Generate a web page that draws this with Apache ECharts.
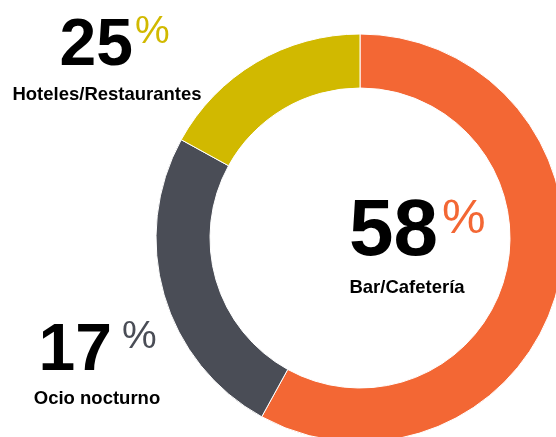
<!DOCTYPE html>
<html>
<head>
<meta charset="utf-8">
<script src="https://cdn.jsdelivr.net/npm/echarts@6/dist/echarts.min.js"></script>
<style>
  html, body { margin: 0; padding: 0; background: #fff; }
  #chart { width: 556px; height: 437px; }
</style>
</head>
<body>
<div id="chart"></div>
<script>
// slices as drawn, clockwise from 12 o'clock
const sliceNames = ['Bar/Cafetería', 'Ocio nocturno', 'Hoteles/Restaurantes'];
const sliceValues = [58, 25, 17];
const sliceColors = ['#f36734', '#4a4d56', '#d1b900'];

// text labels printed beside the ring
const labelNames = ['Bar/Cafetería', 'Hoteles/Restaurantes', 'Ocio nocturno'];
const labelValues = ['58', '25', '17'];
const labelColors = ['#f36734', '#d1b900', '#4a4d56'];

const chart = echarts.init(document.getElementById('chart'));

const numFont = 'bold {s}px "Liberation Sans", Arial, sans-serif';
const pctFont = '{s}px "Liberation Sans Narrow", "Liberation Sans", sans-serif';
const nameFont = 'bold {s}px "Liberation Sans", Arial, sans-serif';

// [number right x, number baseline, number size, pct left x, pct baseline, pct size, name center x, name baseline]
const spots = [
  [438, 255, 80, 442, 233, 49, 407, 293],
  [133, 65, 66, 135, 43, 39, 107, 100],
  [112, 370, 66, 122, 348, 39, 97, 404]
];
// top-aligned text: glyph baseline sits about 0.77 * size below y
const topFromBaseline = (b, s) => b - 0.77 * s;

const graphic = [];
labelValues.forEach((v, i) => {
  const p = spots[i];
  graphic.push({
    type: 'text', x: p[0], y: topFromBaseline(p[1], p[2]), silent: true,
    style: { text: v, font: numFont.replace('{s}', p[2]), fill: '#000', textAlign: 'right', textVerticalAlign: 'top' }
  });
  graphic.push({
    type: 'text', x: p[3], y: topFromBaseline(p[4], p[5]), silent: true,
    style: { text: '%', font: pctFont.replace('{s}', p[5]), fill: labelColors[i], textAlign: 'left', textVerticalAlign: 'top' }
  });
  graphic.push({
    type: 'text', x: p[6], y: topFromBaseline(p[7], 18.5), silent: true,
    style: { text: labelNames[i], font: nameFont.replace('{s}', 18.5), fill: '#000', textAlign: 'center', textVerticalAlign: 'top' }
  });
});

chart.setOption({
  animation: false,
  series: [
    {
      type: 'pie',
      center: [360, 238],
      radius: [150, 204],
      startAngle: 90,
      clockwise: true,
      silent: true,
      label: { show: false },
      labelLine: { show: false },
      itemStyle: { borderColor: '#fff', borderWidth: 1 },
      data: sliceValues.map((v, i) => ({
        name: sliceNames[i],
        value: v,
        itemStyle: { color: sliceColors[i] }
      }))
    }
  ],
  graphic: graphic
});
</script>
</body>
</html>
